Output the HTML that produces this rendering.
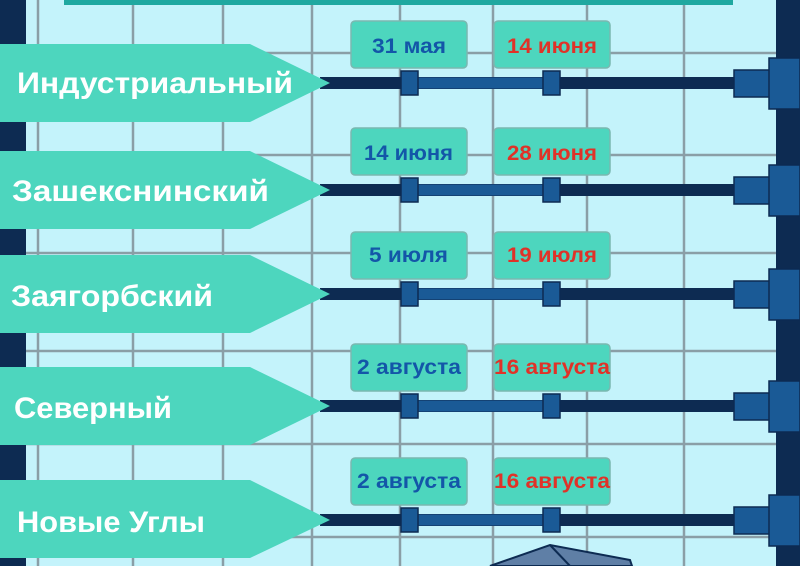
<!DOCTYPE html>
<html><head><meta charset="utf-8"><style>
html,body{margin:0;padding:0;width:800px;height:566px;overflow:hidden;background:#c4f3fb}
svg{display:block}
text{font-family:"Liberation Sans","DejaVu Sans",sans-serif;font-weight:bold}
</style></head><body>
<svg width="800" height="566" viewBox="0 0 800 566">
<rect width="800" height="566" fill="#c4f3fb"/>
<g stroke="#8a9ea6" stroke-width="2.5">
<line x1="38" y1="0" x2="38" y2="566"/><line x1="133" y1="0" x2="133" y2="566"/>
<line x1="223" y1="0" x2="223" y2="566"/><line x1="312" y1="0" x2="312" y2="566"/>
<line x1="400" y1="0" x2="400" y2="566"/><line x1="493" y1="0" x2="493" y2="566"/>
<line x1="587" y1="0" x2="587" y2="566"/><line x1="684" y1="0" x2="684" y2="566"/>
<line x1="0" y1="53" x2="800" y2="53"/><line x1="0" y1="155" x2="800" y2="155"/>
<line x1="0" y1="253" x2="800" y2="253"/><line x1="0" y1="351" x2="800" y2="351"/>
<line x1="0" y1="444" x2="800" y2="444"/><line x1="0" y1="537" x2="800" y2="537"/>
</g>
<rect x="64" y="0" width="669" height="5" fill="#1fa8a0"/>
<rect x="0" y="0" width="26" height="566" fill="#0d2b52"/>
<rect x="776" y="0" width="24" height="566" fill="#0d2b52"/>
<polygon points="490,566 550,545 630,560 632,566" fill="#5f7fa6" stroke="#0d2b52" stroke-width="2"/>
<line x1="550" y1="545" x2="570" y2="566" stroke="#0d2b52" stroke-width="2"/>

<g>
<rect x="320" y="77" width="418" height="12" fill="#0d2b52"/>
<rect x="409" y="77.5" width="142" height="11" fill="#1a5a96"/>
<rect x="401" y="71" width="17" height="24" fill="#1a5a96" stroke="#0d2b52" stroke-width="1.5"/>
<rect x="543" y="71" width="17" height="24" fill="#1a5a96" stroke="#0d2b52" stroke-width="1.5"/>
<rect x="734" y="70" width="36" height="27" fill="#1a5a96" stroke="#0d2b52" stroke-width="1.5"/>
<rect x="769" y="58" width="31" height="51" fill="#1a5a96" stroke="#0d2b52" stroke-width="1.5"/>
<rect x="351" y="21" width="116" height="47" rx="4" fill="#4dd6be" stroke="#7ab8b0" stroke-width="1.5"/>
<rect x="494" y="21" width="116" height="47" rx="4" fill="#4dd6be" stroke="#7ab8b0" stroke-width="1.5"/>
<text x="372" y="53" font-size="21" fill="#1356a8" textLength="74" lengthAdjust="spacingAndGlyphs">31 мая</text>
<text x="507" y="53" font-size="21" fill="#e03228" textLength="90" lengthAdjust="spacingAndGlyphs">14 июня</text>
<polygon points="0,44 250,44 330,83 250,122 0,122" fill="#4dd6be"/>
<text x="17" y="93" font-size="30" fill="#ffffff" textLength="276" lengthAdjust="spacingAndGlyphs">Индустриальный</text>
</g>
<g transform="translate(0,107)">
<rect x="320" y="77" width="418" height="12" fill="#0d2b52"/>
<rect x="409" y="77.5" width="142" height="11" fill="#1a5a96"/>
<rect x="401" y="71" width="17" height="24" fill="#1a5a96" stroke="#0d2b52" stroke-width="1.5"/>
<rect x="543" y="71" width="17" height="24" fill="#1a5a96" stroke="#0d2b52" stroke-width="1.5"/>
<rect x="734" y="70" width="36" height="27" fill="#1a5a96" stroke="#0d2b52" stroke-width="1.5"/>
<rect x="769" y="58" width="31" height="51" fill="#1a5a96" stroke="#0d2b52" stroke-width="1.5"/>
<rect x="351" y="21" width="116" height="47" rx="4" fill="#4dd6be" stroke="#7ab8b0" stroke-width="1.5"/>
<rect x="494" y="21" width="116" height="47" rx="4" fill="#4dd6be" stroke="#7ab8b0" stroke-width="1.5"/>
<text x="364" y="53" font-size="21" fill="#1356a8" textLength="89" lengthAdjust="spacingAndGlyphs">14 июня</text>
<text x="507" y="53" font-size="21" fill="#e03228" textLength="90" lengthAdjust="spacingAndGlyphs">28 июня</text>
<polygon points="0,44 250,44 330,83 250,122 0,122" fill="#4dd6be"/>
<text x="12" y="94" font-size="30" fill="#ffffff" textLength="257" lengthAdjust="spacingAndGlyphs">Зашекснинский</text>
</g>
<g transform="translate(0,211)">
<rect x="320" y="77" width="418" height="12" fill="#0d2b52"/>
<rect x="409" y="77.5" width="142" height="11" fill="#1a5a96"/>
<rect x="401" y="71" width="17" height="24" fill="#1a5a96" stroke="#0d2b52" stroke-width="1.5"/>
<rect x="543" y="71" width="17" height="24" fill="#1a5a96" stroke="#0d2b52" stroke-width="1.5"/>
<rect x="734" y="70" width="36" height="27" fill="#1a5a96" stroke="#0d2b52" stroke-width="1.5"/>
<rect x="769" y="58" width="31" height="51" fill="#1a5a96" stroke="#0d2b52" stroke-width="1.5"/>
<rect x="351" y="21" width="116" height="47" rx="4" fill="#4dd6be" stroke="#7ab8b0" stroke-width="1.5"/>
<rect x="494" y="21" width="116" height="47" rx="4" fill="#4dd6be" stroke="#7ab8b0" stroke-width="1.5"/>
<text x="369" y="51" font-size="21" fill="#1356a8" textLength="79" lengthAdjust="spacingAndGlyphs">5 июля</text>
<text x="507" y="51" font-size="21" fill="#e03228" textLength="90" lengthAdjust="spacingAndGlyphs">19 июля</text>
<polygon points="0,44 250,44 330,83 250,122 0,122" fill="#4dd6be"/>
<text x="11" y="95" font-size="30" fill="#ffffff" textLength="202" lengthAdjust="spacingAndGlyphs">Заягорбский</text>
</g>
<g transform="translate(0,323)">
<rect x="320" y="77" width="418" height="12" fill="#0d2b52"/>
<rect x="409" y="77.5" width="142" height="11" fill="#1a5a96"/>
<rect x="401" y="71" width="17" height="24" fill="#1a5a96" stroke="#0d2b52" stroke-width="1.5"/>
<rect x="543" y="71" width="17" height="24" fill="#1a5a96" stroke="#0d2b52" stroke-width="1.5"/>
<rect x="734" y="70" width="36" height="27" fill="#1a5a96" stroke="#0d2b52" stroke-width="1.5"/>
<rect x="769" y="58" width="31" height="51" fill="#1a5a96" stroke="#0d2b52" stroke-width="1.5"/>
<rect x="351" y="21" width="116" height="47" rx="4" fill="#4dd6be" stroke="#7ab8b0" stroke-width="1.5"/>
<rect x="494" y="21" width="116" height="47" rx="4" fill="#4dd6be" stroke="#7ab8b0" stroke-width="1.5"/>
<text x="357" y="51" font-size="21" fill="#1356a8" textLength="104" lengthAdjust="spacingAndGlyphs">2 августа</text>
<text x="494" y="51" font-size="21" fill="#e03228" textLength="116" lengthAdjust="spacingAndGlyphs">16 августа</text>
<polygon points="0,44 250,44 330,83 250,122 0,122" fill="#4dd6be"/>
<text x="14" y="95" font-size="30" fill="#ffffff" textLength="158" lengthAdjust="spacingAndGlyphs">Северный</text>
</g>
<g transform="translate(0,437)">
<rect x="320" y="77" width="418" height="12" fill="#0d2b52"/>
<rect x="409" y="77.5" width="142" height="11" fill="#1a5a96"/>
<rect x="401" y="71" width="17" height="24" fill="#1a5a96" stroke="#0d2b52" stroke-width="1.5"/>
<rect x="543" y="71" width="17" height="24" fill="#1a5a96" stroke="#0d2b52" stroke-width="1.5"/>
<rect x="734" y="70" width="36" height="27" fill="#1a5a96" stroke="#0d2b52" stroke-width="1.5"/>
<rect x="769" y="58" width="31" height="51" fill="#1a5a96" stroke="#0d2b52" stroke-width="1.5"/>
<rect x="351" y="21" width="116" height="47" rx="4" fill="#4dd6be" stroke="#7ab8b0" stroke-width="1.5"/>
<rect x="494" y="21" width="116" height="47" rx="4" fill="#4dd6be" stroke="#7ab8b0" stroke-width="1.5"/>
<text x="357" y="51" font-size="21" fill="#1356a8" textLength="104" lengthAdjust="spacingAndGlyphs">2 августа</text>
<text x="494" y="51" font-size="21" fill="#e03228" textLength="116" lengthAdjust="spacingAndGlyphs">16 августа</text>
<polygon points="0,43 250,43 330,83 250,121 0,121" fill="#4dd6be"/>
<text x="17" y="95" font-size="30" fill="#ffffff" textLength="188" lengthAdjust="spacingAndGlyphs">Новые Углы</text>
</g>
</svg>
</body></html>
